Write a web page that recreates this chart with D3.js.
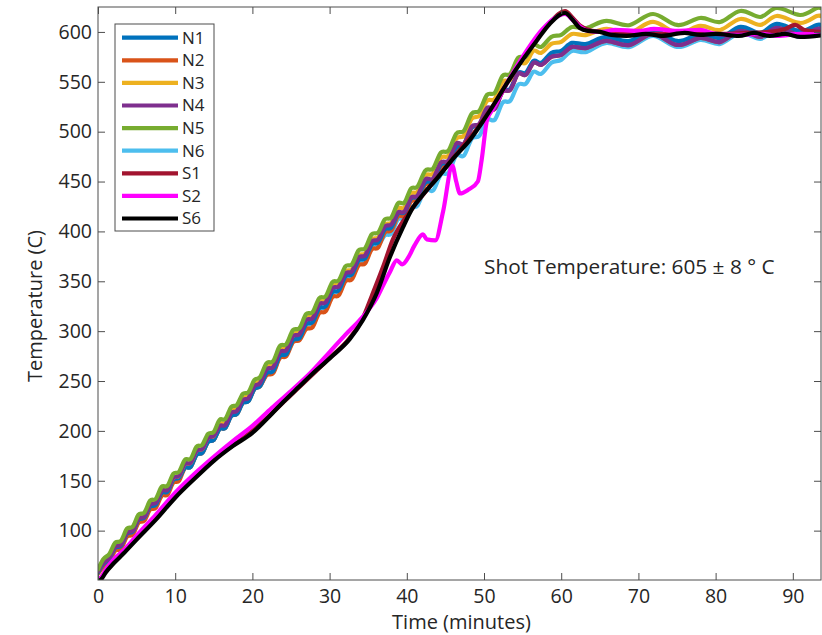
<!DOCTYPE html>
<html><head><meta charset="utf-8">
<script src="https://cdn.jsdelivr.net/npm/d3@7"></script>
<style>body{margin:0;background:#fff}svg{display:block}</style>
</head><body>
<svg id="c" width="822" height="635"></svg>
<script>
// ---- data ----
const seriesNames = ["N1","N2","N3","N4","N5","N6","S1","S2","S6"];
const seriesColors = ["#0072BD","#D95319","#EDB120","#7E2F8E","#77AC30","#4DBEEE","#A2142F","#FF00FF","#000000"];
const xTicks = [0,10,20,30,40,50,60,70,80,90];
const yTicks = [100,150,200,250,300,350,400,450,500,550,600];

// shared time grid for the N thermocouples (minutes)
const timeN = [0,0.75,1.5,2.25,3,3.75,4.5,5.25,6,6.75,7.5,8.25,9,9.75,10.5,11.25,12,12.75,13.5,14.25,15,15.75,16.5,17.25,18,18.75,19.5,20.25,21,
21.85,22.7,23.55,24.4,25.25,26.1,26.95,27.8,28.65,29.5,30.35,31.2,32.05,32.9,33.75,34.6,35.45,36.3,37.15,38,38.85,39.7,40.55,41.4,
42.4,43.4,44.4,45.4,46.4,47.4,48.4,49.4,50.4,51.4,52.4,53.4,54.4,55.4,56.4,57.4,
58.7,60,61.4,63.3,
65.9,68.9,71.9,75,78,80.6,83.2,85.8,87.9,90.9,93.1,94.5];

const n1 = [58,67,72,83,85,97,99,111,113,124,126,138,139,151,153,163,164,176,178,189,191,202,203,215,217,228,230,242,245,
258,260,275,277,291,293,307,309,323,325,339,341,355,357,371,373,387,389,402,404,418,419,433,435,
449,451,467,469,484,487,504,507,522,524,541,543,559,559,571,569,
579,581,589,588,
595,591,602,591,598,594,605,599,608,601,607,603];
const n2 = [57,64,69,80,82,94,96,108,110,121,123,135,136,148,150,163,164,176,178,189,191,202,203,215,217,228,230,242,245,
256,258,273,275,289,291,302,304,318,320,334,336,350,352,366,368,382,384,399,401,415,416,430,432,
447,449,465,467,484,487,504,507,521,523,540,542,558,557,569,567,
575,577,585,584,
591,587,598,587,594,590,601,595,604,597,603,599];
const n3 = [60,69,74,85,87,99,101,113,115,127,129,141,142,153,155,167,168,180,182,193,195,207,208,220,222,233,235,247,250,
264,266,281,283,297,299,313,315,329,331,345,347,360,362,376,378,392,394,407,409,423,424,438,440,
456,458,474,476,493,496,513,516,531,533,550,552,568,569,581,579,
588,590,598,597,
603,599,610,599,606,602,613,607,616,609,616,612];
const n4 = [59,68,73,84,86,98,100,112,114,126,128,140,141,153,155,167,168,180,182,193,195,205,206,218,220,231,233,245,248,
262,264,279,281,295,297,311,313,327,329,343,345,358,360,374,376,390,392,405,407,419,420,434,436,
452,453,469,471,488,488,505,508,524,523,540,542,558,557,569,567,
575,577,585,584,
591,587,598,587,594,590,601,595,604,597,603,599];
const n5 = [61,72,77,88,90,102,104,116,118,130,132,144,145,157,159,171,172,184,186,197,199,211,212,224,226,237,239,251,254,
268,270,285,287,301,303,317,319,333,335,349,351,365,367,381,383,397,399,412,414,428,429,443,445,
461,463,479,481,498,501,518,521,537,539,556,558,574,575,587,585,
595,597,605,604,
611,607,618,607,614,610,621,615,624,617,624,620];
const n6 = [58,67,72,83,85,97,99,111,113,124,126,138,139,151,153,163,164,176,178,189,191,202,203,215,217,228,230,242,245,
257,259,274,276,290,292,306,308,322,324,338,340,352,354,368,370,384,386,396,398,412,413,424,426,
442,441,457,459,476,476,493,496,512,512,529,531,547,548,560,558,
569,572,581,580,
589,585,596,585,592,588,599,593,602,595,602,598];

const s1Time = [0,1,3.3,10,15,20,25,30,32.6,34.3,35.5,37,38.2,39.5,41,43,45,47,49,51,53,55,57,58.5,60.5,61.5,62.5,64,67,70,73,76,80,84,87,89,90.3,91.5,94];
const s1Temp = [49,59,78,135,171,200,236,273,293,313,336,366,392,410,426,445,464,483,502,524,549,573,595,609,621,614,606,601,599,598,598,599,598,599,600,603,607,602,600];

const s2Time = [0,0.5,1,2,3.3,5,7.5,10,12.5,15,17.5,20,22.5,25,27.5,30,32,33.9,35,36.1,37,37.8,38.7,39.4,40.2,41,42.1,42.6,43.7,44.7,45.9,46.4,46.9,48,49.2,49.7,50.4,51.2,53,55,57.6,59,60.5,61.5,62.5,63.5,65,67,70,72,75,78,80,83,86,88,91,94];
const s2Temp = [50,54,61,71,80,95,116,138,157,174,190,205,223,240,258,279,296,311,321,333,347,359,371,367,374,386,397,392,391,420,466,450,438,442,450,472,512,523,549,575,603,613,618,612,605,601,600,602,601,603,601,602,598,597,598,596,598,597];

const s6Time = [0,0.5,1,2,3.3,5,7.5,10,12.5,15,17.5,20,22.5,24,26,28.3,30.5,32.6,34.3,36.1,37.8,39.5,40.8,42,44,46,48.2,50,51.5,53,55,56.9,58.5,60.5,61.5,62.4,63.5,65,66.5,68.5,71,73,76,78,80,83,85,87,89,91,94];
const s6Temp = [48,52,58,67,77,91,111,133,152,170,185,198,217,229,244,261,276,292,311,338,374,404,424,436,454,473,492,512,530,549,572,592,608,619,612,604,601,600,597,596,598,596,599,597,598,596,599,596,598,595,597];

const annotation = "Shot Temperature: 605 \u00B1 8 \u00B0 C";
const xLabel = "Time (minutes)";
const yLabel = "Temperature (C)";

// ---- build ----
const series = [
  {name:"N1", t:timeN, v:n1, curve:d3.curveNatural},
  {name:"N2", t:timeN, v:n2, curve:d3.curveNatural},
  {name:"N3", t:timeN, v:n3, curve:d3.curveNatural},
  {name:"N4", t:timeN, v:n4, curve:d3.curveNatural},
  {name:"N5", t:timeN, v:n5, curve:d3.curveNatural},
  {name:"N6", t:timeN, v:n6, curve:d3.curveNatural},
  {name:"S1", t:s1Time, v:s1Temp, curve:d3.curveMonotoneX},
  {name:"S2", t:s2Time, v:s2Temp, curve:d3.curveMonotoneX},
  {name:"S6", t:s6Time, v:s6Temp, curve:d3.curveMonotoneX}
];
const color = d3.scaleOrdinal().domain(seriesNames).range(seriesColors);
const drawOrder = ["N6","N2","N1","N3","N4","N5","S1","S2","S6"];

const L=98, R=821, T=7, B=580;
const x = d3.scaleLinear().domain([0,93.65]).range([L,R]);
const y = d3.scaleLinear().domain([50.5,625]).range([B,T]);
const FONT = "'Open Sans', sans-serif";
const axisCol = "#4d4d4d";
const LW = 4.2;

const svg = d3.select("#c");
svg.append("defs").append("clipPath").attr("id","clip")
  .append("rect").attr("x",L).attr("y",T).attr("width",R-L).attr("height",B-T);

const lines = svg.append("g").attr("clip-path","url(#clip)");
drawOrder.forEach(nm=>{
  const s = series.find(d=>d.name===nm);
  const pts = s.t.map((t,i)=>[t,s.v[i]]);
  lines.append("path").datum(pts)
    .attr("fill","none").attr("stroke",color(nm)).attr("stroke-width",LW)
    .attr("stroke-linejoin","round").attr("stroke-linecap","round")
    .attr("d", d3.line().x(d=>x(d[0])).y(d=>y(d[1])).curve(s.curve));
});

function styleAxis(g){
  g.selectAll("path").remove();
  g.selectAll("line").attr("stroke",axisCol).attr("stroke-width",1);
  g.selectAll("text").attr("fill","#262626").style("font-family",FONT).style("font-size","19.5px");
}
svg.append("g").attr("transform",`translate(0,${B})`)
  .call(d3.axisBottom(x).tickValues(xTicks).tickSize(-7).tickPadding(9)).call(styleAxis);
svg.append("g").attr("transform",`translate(${L},0)`)
  .call(d3.axisLeft(y).tickValues(yTicks).tickSize(-7).tickPadding(6)).call(styleAxis);
svg.append("g").attr("transform",`translate(0,${T})`)
  .call(d3.axisTop(x).tickValues(xTicks).tickSize(-7).tickFormat("")).call(styleAxis);
svg.append("g").attr("transform",`translate(${R},0)`)
  .call(d3.axisRight(y).tickValues(yTicks).tickSize(-7).tickFormat("")).call(styleAxis);
svg.append("rect").attr("x",L).attr("y",T).attr("width",R-L).attr("height",B-T)
  .attr("fill","none").attr("stroke",axisCol).attr("stroke-width",1);

// labels
svg.append("text").attr("x",(L+R)/2+2).attr("y",629).attr("text-anchor","middle")
  .style("font-family",FONT).style("font-size","20px").attr("fill","#262626").text(xLabel);
svg.append("text").attr("transform","translate(42,306) rotate(-90)").attr("text-anchor","middle")
  .style("font-family",FONT).style("font-size","20px").attr("fill","#262626").text(yLabel);
svg.append("text").attr("x",484).attr("y",274)
  .style("font-family",FONT).style("font-size","20.8px").attr("fill","#262626").text(annotation);

// legend
const lg = svg.append("g");
lg.append("rect").attr("x",115).attr("y",24).attr("width",99).attr("height",207)
  .attr("fill","#fff").attr("stroke",axisCol).attr("stroke-width",1);
seriesNames.forEach((nm,i)=>{
  const yy = 37.7 + i*22.6;
  lg.append("line").attr("x1",122).attr("x2",178).attr("y1",yy).attr("y2",yy)
    .attr("stroke",color(nm)).attr("stroke-width",LW);
  lg.append("text").attr("x",182).attr("y",yy).attr("dy","0.35em")
    .style("font-family",FONT).style("font-size","17px").attr("fill","#262626").text(nm);
});
</script>
</body></html>
